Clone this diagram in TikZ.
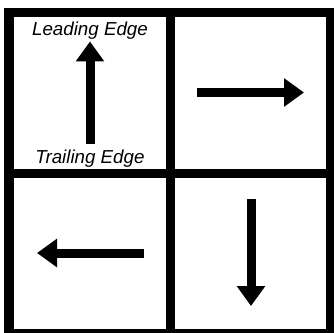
\documentclass[tikz,border=0pt]{standalone}
\usepackage{fontspec}
\setmainfont{Liberation Sans}
\usetikzlibrary{positioning,arrows.meta}

\begin{document}
\begin{tikzpicture}[x=0.03cm, y=-0.03cm,
        grade/.style={line width=0.27cm},
        seta/.style={line width=0.27cm, -{Triangle[length=0.6cm, width=0.82cm]}},
        rotulo/.style={inner sep=0pt, font=\itshape\fontsize{16}{19}\selectfont}]
        \useasboundingbox (0, 0) rectangle (334, 332);
        \clip (0, 0) rectangle (334, 332);

        % Quadro
        \draw[grade] (9, 12.5) rectangle (330, 333.5);
        \draw[grade] (170, 12.5) -- (170, 333.5);
        \draw[grade] (9, 173) -- (330, 173);

        % Rotulos
        \node[rotulo, anchor=base] (lead) at (90, 35) {Leading Edge};
        \node[rotulo, anchor=base] (trail) at (90, 163) {Trailing Edge};

        % Setas
        \draw[seta, shorten <=4.5pt, shorten >=2pt] (trail.north) -- (lead.south);

        \coordinate (dirA) at (197, 92.5);
        \coordinate (dirB) at (304, 92.5);
        \draw[seta] (dirA) -- (dirB);

        \coordinate (esqA) at (144, 253);
        \coordinate (esqB) at (37, 253);
        \draw[seta] (esqA) -- (esqB);

        \coordinate (baiA) at (251, 199);
        \coordinate (baiB) at (251, 306);
        \draw[seta] (baiA) -- (baiB);

    \end{tikzpicture}
\end{document}
